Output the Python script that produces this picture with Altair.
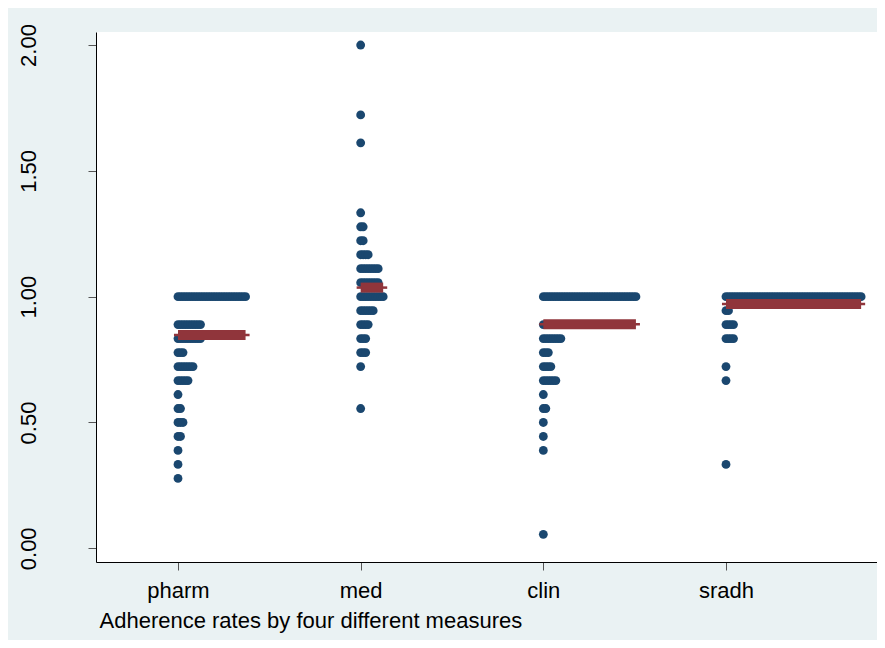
import altair as alt
import pandas as pd

# ---- data ----
categories = ["pharm", "med", "clin", "sradh"]
# values are multiples of 1/18 ; counts = number of dots in each row
pharm_k = [18, 16, 15, 14, 13, 12, 11, 10, 9, 8, 7, 6, 5]
pharm_n = [28, 10, 10, 3, 7, 5, 1, 2, 3, 2, 1, 1, 1]
med_k = [36, 31, 29, 24, 23, 22, 21, 20, 19, 18, 17, 16, 15, 14, 13, 10]
med_n = [1, 1, 1, 1, 2, 2, 4, 8, 8, 10, 6, 4, 3, 3, 1, 1]
clin_k = [18, 16, 15, 14, 13, 12, 11, 10, 9, 8, 7, 1]
clin_n = [38, 10, 8, 3, 4, 6, 1, 2, 1, 1, 1, 1]
sradh_k = [18, 17, 16, 15, 13, 12, 6]
sradh_n = [55, 2, 4, 4, 1, 1, 1]
means = [0.848, 1.036, 0.890, 0.971]

STEP = 0.0137  # horizontal dot spacing in x-axis units
PAD = 0.022

rows = []
mean_rows = []
for ci, (name, ks, ns) in enumerate(zip(categories,
                                         [pharm_k, med_k, clin_k, sradh_k],
                                         [pharm_n, med_n, clin_n, sradh_n]), start=1):
    for k, n in zip(ks, ns):
        for j in range(n):
            rows.append({"measure": name, "pos": ci + j * STEP, "rate": k / 18})
    end = ci + (max(ns) - 1) * STEP
    mean_rows.append({"measure": name, "x1": ci, "x2": end,
                      "t1": ci - PAD, "t2": end + PAD, "mean": means[ci - 1]})

dots = pd.DataFrame(rows)
mdf = pd.DataFrame(mean_rows)

FONT = "Liberation Sans"
FS = 22
xscale = alt.Scale(domain=[0.5511, 4.8267], nice=False, zero=False)
yscale = alt.Scale(domain=[-0.0544, 2.0517], nice=False, zero=False)

xaxis = alt.Axis(values=[1, 2, 3, 4],
                 labelExpr="['','pharm','med','clin','sradh'][datum.value]",
                 title="Adherence rates by four different measures",
                 titleFont=FONT, titleFontSize=FS, titleFontWeight="normal",
                 titleColor="#000000", titleAnchor="start", titleAlign="left",
                 titleX=3, titleY=65, titleBaseline="alphabetic",
                 labelFont=FONT, labelFontSize=FS, labelColor="#000000",
                 labelBaseline="alphabetic", labelPadding=27,
                 tickSize=8, tickColor="#555555", domainColor="#000000",
                 domainWidth=1, grid=False)
yaxis = alt.Axis(values=[0, 0.5, 1, 1.5, 2], format=".2f", title=None,
                 labelFont=FONT, labelFontSize=FS, labelColor="#000000",
                 labelAngle=270, labelAlign="center", labelBaseline="alphabetic",
                 labelPadding=53, tickSize=8, tickColor="#555555",
                 domainColor="#000000", domainWidth=1, grid=False)

points = alt.Chart(dots).mark_circle(size=78, opacity=1, color="#1a476f").encode(
    x=alt.X("pos:Q", scale=xscale, axis=xaxis),
    y=alt.Y("rate:Q", scale=yscale, axis=yaxis),
)

thin = alt.Chart(mdf).mark_rule(color="#90353b", strokeWidth=2.5).encode(
    x=alt.X("t1:Q", scale=xscale), x2="t2:Q", y=alt.Y("mean:Q", scale=yscale)
)
thick = alt.Chart(mdf).mark_rule(color="#90353b", strokeWidth=10, strokeCap="butt").encode(
    x=alt.X("x1:Q", scale=xscale), x2="x2:Q", y=alt.Y("mean:Q", scale=yscale)
)

chart = (points + thin + thick).properties(
    width=781, height=530,
    autosize=alt.AutoSizeParams(type="none"),
    padding={"left": 88, "top": 24, "right": 0, "bottom": 78},
    background="#eaf2f3",
).configure_view(fill="#ffffff", stroke=None)

chart.save("out.html", embed_options={"renderer": "svg", "actions": False})
